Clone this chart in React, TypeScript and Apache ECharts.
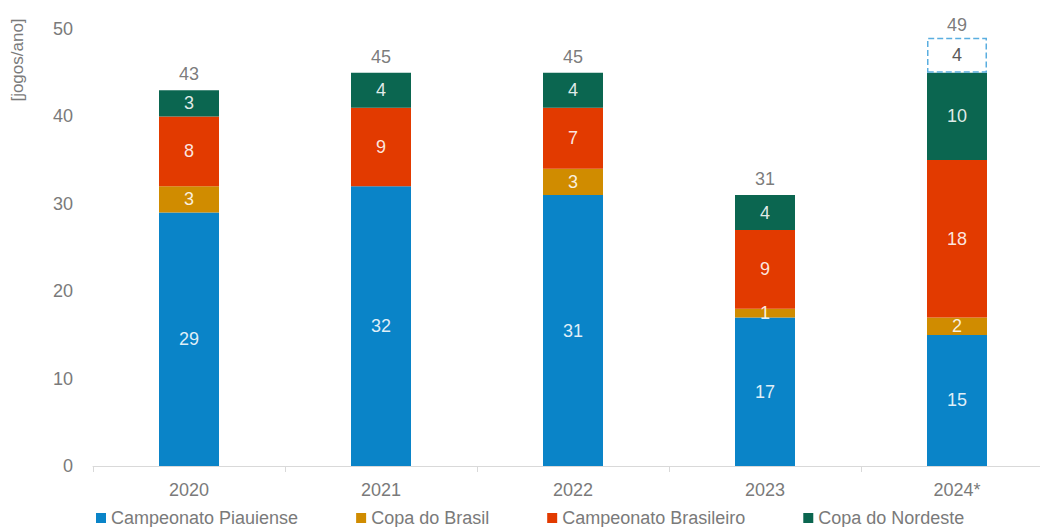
import React, { useEffect, useRef } from "react";
import * as echarts from "echarts";

const categories = ["2020", "2021", "2022", "2023", "2024*"];
const piauiense = [29, 32, 31, 17, 15];
const copaBrasil = [3, 0, 3, 1, 2];
const brasileiro = [8, 9, 7, 9, 18];
const nordeste = [3, 4, 4, 4, 10];
const projected = [null, null, null, null, 4];
const totals = [43, 45, 45, 31, 49];
const yTicks = { min: 0, max: 50, interval: 10 };

const FONT = "Liberation Sans, Arial, sans-serif";
const DARK = "#595959";
const GREY = "#7a7a7a";
const IN_LABEL = "rgba(255,255,255,0.88)";

export default function App() {
  const ref = useRef<HTMLDivElement>(null);
  useEffect(() => {
    document.body.style.margin = "0";
    if (!ref.current) return;
    const chart = echarts.init(ref.current, undefined, { renderer: "svg" });
    const inLabel = {
      show: true,
      position: "inside",
      color: IN_LABEL,
      fontSize: 18,
      fontFamily: FONT,
      formatter: (p: any) => (p.value ? String(p.value) : ""),
    };
    const mk = (name: string, data: any[], color: string) => ({
      name,
      type: "bar",
      stack: "total",
      barWidth: 60,
      data,
      itemStyle: { color },
      label: inLabel,
    });
    chart.setOption({
      animation: false,
      textStyle: { fontFamily: FONT },
      grid: { left: 93, width: 960, top: 29, bottom: 61 },
      legend: {
        data: ["Campeonato Piauiense", "Copa do Brasil", "Campeonato Brasileiro", "Copa do Nordeste"],
        left: 91,
        top: 504,
        icon: "rect",
        itemWidth: 10,
        itemHeight: 10,
        itemGap: 58,
        textStyle: { fontSize: 18, color: GREY, fontFamily: FONT },
      },
      xAxis: {
        type: "category",
        data: categories,
        axisLine: { lineStyle: { color: "#d9d9d9" } },
        axisTick: { show: true, length: 6, lineStyle: { color: "#d9d9d9" } },
        axisLabel: { fontSize: 18, color: GREY, margin: 15, fontFamily: FONT },
      },
      yAxis: {
        type: "value",
        min: yTicks.min,
        max: yTicks.max,
        interval: yTicks.interval,
        axisLine: { show: false },
        axisTick: { show: false },
        splitLine: { show: false },
        axisLabel: { fontSize: 18, color: GREY, margin: 20, fontFamily: FONT },
      },
      graphic: [
        {
          type: "text",
          x: 17,
          y: 60,
          rotation: Math.PI / 2,
          style: {
            text: "[jogos/ano]",
            fontSize: 17,
            fill: GREY,
            fontFamily: FONT,
            textAlign: "center",
            textVerticalAlign: "middle",
          },
        },
      ],
      series: [
        mk("Campeonato Piauiense", piauiense, "#0a84c8"),
        mk("Copa do Brasil", copaBrasil, "#d08c00"),
        mk("Campeonato Brasileiro", brasileiro, "#e23a00"),
        mk("Copa do Nordeste", nordeste, "#0b6650"),
        {
          name: "Projeção",
          type: "bar",
          stack: "total",
          barWidth: 60,
          data: projected,
          itemStyle: {
            color: "#ffffff",
            borderColor: "#5aaee0",
            borderWidth: 1.5,
            borderType: "dashed",
          },
          label: { ...inLabel, color: DARK },
        },
        {
          name: "Total",
          type: "scatter",
          data: totals.map((v, i) =>
            i === totals.length - 1 ? { value: v, label: { distance: 4 } } : v
          ),
          symbolSize: 0,
          z: 10,
          label: {
            show: true,
            position: "top",
            distance: 7,
            color: DARK,
            fontSize: 18,
            fontFamily: FONT,
            formatter: "{c}",
          },
        },
      ],
    });
    return () => chart.dispose();
  }, []);
  return (
    <div style={{ width: 1040, height: 527, overflow: "hidden" }}>
      <div ref={ref} style={{ width: 1060, height: 527 }} />
    </div>
  );
}
